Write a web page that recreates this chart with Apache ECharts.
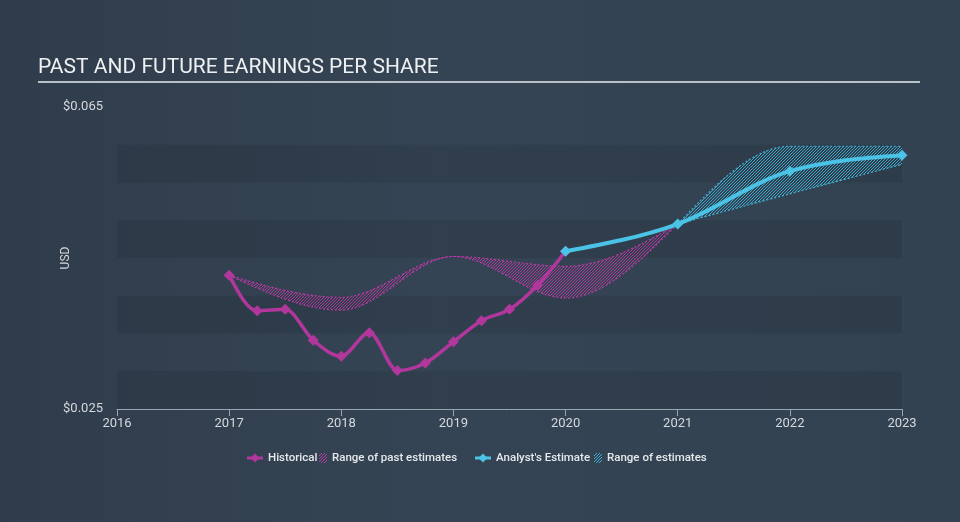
<!DOCTYPE html>
<html><head><meta charset="utf-8">
<script src="https://cdn.jsdelivr.net/npm/echarts@6/dist/echarts.min.js"></script>
<style>html,body{margin:0;padding:0;background:#334252}#c{width:960px;height:522px}</style>
</head><body><div id="c"></div>
<script>
// ---------- data ----------
const titleText = 'PAST AND FUTURE EARNINGS PER SHARE';
const yTickLabels = ['$0.025', '$0.065'];
const histYears = [2017, 2017.25, 2017.5, 2017.75, 2018, 2018.25, 2018.5, 2018.75, 2019, 2019.25, 2019.5, 2019.75, 2020];
const histEPS   = [0.0427, 0.0380, 0.0382, 0.0341, 0.0320, 0.0351, 0.0301, 0.0311, 0.0339, 0.0367, 0.0382, 0.0414, 0.0459];
const estYears = [2020, 2021, 2022, 2023];
const estEPS   = [0.0459, 0.0495, 0.0565, 0.0586];
const pastRangeYears = [2017, 2018, 2019, 2020, 2021];
const pastRangeLow   = [0.0427, 0.0381, 0.0452, 0.0397, 0.0495];
const pastRangeHigh  = [0.0427, 0.0398, 0.0452, 0.0439, 0.0495];
const estRangeYears = [2021, 2022, 2023];
const estRangeLow   = [0.0495, 0.0535, 0.0574];
const estRangeHigh  = [0.0495, 0.0598, 0.0598];

// ---------- styles ----------
const MAG = '#b2379c';
const MAG_H = '#b83aa2';
const CYAN = '#4bc3e6';
const CYAN_H = '#3fb0d4';
const TXT = '#d5d9de';

function hatchCanvas(color, w, h, step, alpha) {
  const c = document.createElement('canvas'); c.width = w; c.height = h;
  const g = c.getContext('2d');
  g.strokeStyle = color; g.globalAlpha = alpha; g.lineWidth = 1;
  g.beginPath();
  for (let k = -h; k < w + h; k += step) { g.moveTo(k, h); g.lineTo(k + h, 0); }
  g.stroke();
  return c;
}
function lineDiamondIcon(color) {
  const c = document.createElement('canvas'); c.width = 16; c.height = 10;
  const g = c.getContext('2d');
  g.strokeStyle = color; g.lineWidth = 3;
  g.beginPath(); g.moveTo(0, 5); g.lineTo(16, 5); g.stroke();
  g.fillStyle = color; g.beginPath();
  g.moveTo(8, 0.5); g.lineTo(12.5, 5); g.lineTo(8, 9.5); g.lineTo(3.5, 5); g.closePath(); g.fill();
  return 'image://' + c.toDataURL();
}
function hatchIcon(color) {
  return 'image://' + hatchCanvas(color, 8, 10, 3, 1).toDataURL();
}
const magPattern = {image: hatchCanvas(MAG_H, 3, 3, 3, 1), repeat: 'repeat'};
const cyanPattern = {image: hatchCanvas(CYAN_H, 3, 3, 3, 1), repeat: 'repeat'};

// monotone-x cubic segments (like d3.curveMonotoneX)
function monoSegs(pts) {
  const n = pts.length, xs = pts.map(p => p[0]), ys = pts.map(p => p[1]);
  const t = new Array(n).fill(0);
  const sgn = v => v < 0 ? -1 : 1;
  if (n === 2) { const s = (ys[1] - ys[0]) / (xs[1] - xs[0]); t[0] = t[1] = s; }
  for (let i = 1; i < n - 1; i++) {
    const h0 = xs[i] - xs[i - 1], h1 = xs[i + 1] - xs[i];
    const s0 = (ys[i] - ys[i - 1]) / h0, s1 = (ys[i + 1] - ys[i]) / h1;
    const p = (s0 * h1 + s1 * h0) / (h0 + h1);
    t[i] = (sgn(s0) + sgn(s1)) * Math.min(Math.abs(s0), Math.abs(s1), 0.5 * Math.abs(p)) || 0;
  }
  if (n > 2) {
    t[0] = (3 * (ys[1] - ys[0]) / (xs[1] - xs[0]) - t[1]) / 2;
    t[n - 1] = (3 * (ys[n - 1] - ys[n - 2]) / (xs[n - 1] - xs[n - 2]) - t[n - 2]) / 2;
  }
  const segs = [];
  for (let i = 0; i < n - 1; i++) {
    const h = (xs[i + 1] - xs[i]) / 3;
    segs.push([[xs[i], ys[i]], [xs[i] + h, ys[i] + t[i] * h], [xs[i + 1] - h, ys[i + 1] - t[i + 1] * h], [xs[i + 1], ys[i + 1]]]);
  }
  return segs;
}
const P = p => p[0].toFixed(2) + ',' + p[1].toFixed(2);
function segsPath(segs, move) {
  let d = (move ? 'M' : 'L') + P(segs[0][0]);
  segs.forEach(s => { d += 'C' + P(s[1]) + ' ' + P(s[2]) + ' ' + P(s[3]); });
  return d;
}
function segsPathRev(segs) {
  const r = segs.slice().reverse();
  let d = 'L' + P(r[0][3]);
  r.forEach(s => { d += 'C' + P(s[2]) + ' ' + P(s[1]) + ' ' + P(s[0]); });
  return d;
}

function rangeSeries(name, years, low, high, color, pattern) {
  return {
    type: 'custom', name, silent: true, z: 2,
    data: years.map((y, i) => [y, low[i], high[i]]),
    encode: {x: 0, y: [1, 2]},
    renderItem: (params, api) => {
      if (params.dataIndex !== 0) return null;
      const up = years.map((y, i) => api.coord([y, high[i]]));
      const lo = years.map((y, i) => api.coord([y, low[i]]));
      const su = monoSegs(up), sl = monoSegs(lo);
      return {type: 'group', children: [
        {type: 'path', shape: {pathData: segsPath(su, true) + segsPathRev(sl) + 'Z'}, style: {fill: pattern, stroke: 'none', opacity: 0.9}},
        {type: 'path', shape: {pathData: segsPath(su, true)}, style: {fill: 'none', stroke: color, lineWidth: 1.2, lineDash: [2, 2]}},
        {type: 'path', shape: {pathData: segsPath(sl, true)}, style: {fill: 'none', stroke: color, lineWidth: 1.2, lineDash: [2, 2]}}
      ]};
    }
  };
}
function lineSeries(name, years, vals, color, width, z) {
  return {
    type: 'custom', name, silent: true, z,
    data: years.map((y, i) => [y, vals[i]]),
    encode: {x: 0, y: 1},
    renderItem: (params, api) => {
      if (params.dataIndex !== 0) return null;
      const pts = years.map((y, i) => api.coord([y, vals[i]]));
      const children = [{type: 'path', shape: {pathData: segsPath(monoSegs(pts), true)},
        style: {fill: 'none', stroke: color, lineWidth: width, lineJoin: 'round', lineCap: 'round'}}];
      pts.forEach(p => children.push({type: 'polygon',
        shape: {points: [[p[0], p[1] - 5.5], [p[0] + 5.5, p[1]], [p[0], p[1] + 5.5], [p[0] - 5.5, p[1]]]},
        style: {fill: color}}));
      return {type: 'group', children};
    }
  };
}

function legendAt(left, name, icon, w, h) {
  return {left, top: 452, padding: 0, itemGap: 0, selectedMode: false,
    itemWidth: w, itemHeight: h,
    data: [{name, icon}],
    textStyle: {color: '#e6e9ec', fontSize: 11.5, fontWeight: 500, fontFamily: 'Roboto'}};
}

const chart = echarts.init(document.getElementById('c'), null, {renderer: 'canvas'});
chart.setOption({
  animation: false,
  backgroundColor: {type: 'linear', x: 0, y: 0, x2: 1, y2: 0,
    colorStops: [{offset: 0, color: '#2f3c4b'}, {offset: 0.45, color: '#354454'}, {offset: 1, color: '#334251'}]},
  textStyle: {fontFamily: 'Roboto'},
  title: {text: titleText, left: 38, top: 57, padding: 0,
    textStyle: {color: '#eef0f2', fontSize: 21, fontWeight: 'normal', fontFamily: 'Roboto'}},
  graphic: [{type: 'line', shape: {x1: 38, y1: 82, x2: 920, y2: 82}, style: {stroke: '#b9c0c8', lineWidth: 2}, silent: true}],
  grid: {left: 117, right: 58, top: 107, bottom: 113},
  legend: [
    legendAt(247, 'Historical', lineDiamondIcon(MAG), 16, 10),
    legendAt(319, 'Range of past estimates', hatchIcon(MAG_H), 8, 10),
    legendAt(475, "Analyst's Estimate", lineDiamondIcon(CYAN), 16, 10),
    legendAt(594, 'Range of estimates', hatchIcon(CYAN_H), 8, 10)
  ],
  xAxis: {type: 'value', min: 2016, max: 2023, interval: 1,
    axisLine: {lineStyle: {color: '#9aa5b1', width: 1}},
    axisTick: {show: true, length: 7, lineStyle: {color: '#9aa5b1'}},
    axisLabel: {color: TXT, fontSize: 13, margin: 8, formatter: v => String(v)},
    splitLine: {show: false}},
  yAxis: {type: 'value', min: 0.025, max: 0.065, interval: 0.005,
    name: 'USD', nameLocation: 'middle', nameGap: 45, nameRotate: 90, nameMoveOverlap: false,
    nameTextStyle: {color: TXT, fontSize: 12},
    axisLine: {show: false}, axisTick: {show: false},
    axisLabel: {color: TXT, fontSize: 13, margin: 14, formatter: v => {
      const s = '$' + v.toFixed(3); return yTickLabels.includes(s) ? s : ''; }},
    splitLine: {show: false},
    splitArea: {show: true, areaStyle: {color: ['rgba(20,28,38,0.14)', 'rgba(0,0,0,0)']}}},
  series: [
    rangeSeries('Range of past estimates', pastRangeYears, pastRangeLow, pastRangeHigh, MAG_H, magPattern),
    rangeSeries('Range of estimates', estRangeYears, estRangeLow, estRangeHigh, CYAN_H, cyanPattern),
    lineSeries('Historical', histYears, histEPS, MAG, 3.5, 3),
    lineSeries("Analyst's Estimate", estYears, estEPS, CYAN, 4, 4)
  ]
});
</script></body></html>
